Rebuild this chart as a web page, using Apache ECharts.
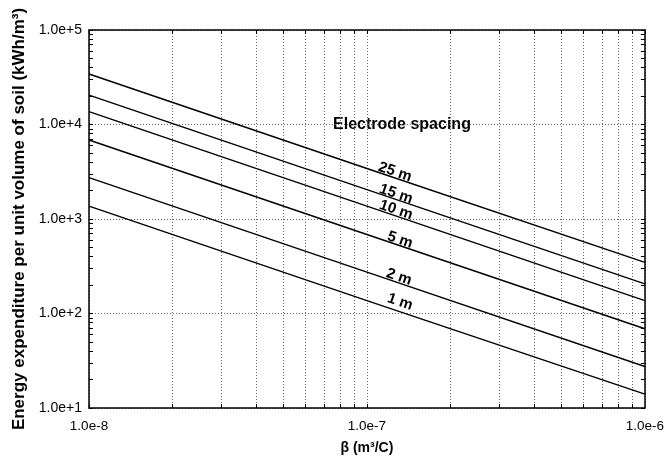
<!DOCTYPE html>
<html>
<head>
<meta charset="utf-8">
<script src="https://cdn.jsdelivr.net/npm/echarts@6/dist/echarts.min.js"></script>
<style>
  html, body { margin: 0; padding: 0; background: #fff; }
  #chart { width: 667px; height: 463px; }
</style>
</head>
<body>
<div id="chart"></div>
<script>
// beta values (m3/C) where each line is sampled
var betaValues = [1e-8, 1e-7, 1e-6];
// electrode spacings and energy per unit volume (kWh/m3)
var spacingNames = ['25 m', '15 m', '10 m', '5 m', '2 m', '1 m'];
var energy25 = [34200, 3420, 348];
var energy15 = [20500, 2050, 206];
var energy10 = [13700, 1370, 137];
var energy5 = [6850, 685, 69];
var energy2 = [2740, 274, 27.5];
var energy1 = [1370, 137, 14];
var energyData = [energy25, energy15, energy10, energy5, energy2, energy1];
// tick labels
var xTickLabels = ['1.0e-8', '1.0e-7', '1.0e-6'];
var yTickLabels = ['1.0e+1', '1.0e+2', '1.0e+3', '1.0e+4', '1.0e+5'];

// minor tick positions on log axes (1..9 of each decade)
function minorValues(lo, hi) {
  var out = [];
  for (var e = lo; e < hi; e++) {
    for (var m = 1; m <= 9; m++) out.push(+(m * Math.pow(10, e)).toPrecision(3));
  }
  out.push(Math.pow(10, hi));
  return out;
}
var xMinor = minorValues(-8, -6);
var yMinor = minorValues(1, 5);

// pick the tick label whose exponent matches the tick value
function expLabel(list) {
  return function (v) {
    var e = Math.round(Math.log10(v));
    var suffix = e >= 0 ? '+' + e : String(e);
    for (var i = 0; i < list.length; i++) {
      if (list[i].slice(-suffix.length) === suffix) return list[i];
    }
    return '';
  };
}

var font = 'Liberation Sans, Arial, sans-serif';
var gridStyle = { color: '#666', type: [1, 2], width: 1 };
var axisStyle = { color: '#000', width: 1.5 };

var series = energyData.map(function (vals, i) {
  return {
    name: spacingNames[i],
    type: 'line',
    symbol: 'none',
    silent: true,
    lineStyle: { color: '#000', width: 1.4 },
    data: betaValues.map(function (b, j) { return [b, vals[j]]; })
  };
});

// annotation text for each line (centre x, y), rotated along the lines
var labelPos = [[395, 172], [396, 194], [396, 210], [400, 240], [399, 277], [400, 302]];
var graphics = [{
  type: 'text', x: 402, y: 125,
  style: { text: 'Electrode spacing', font: 'bold 16px ' + font, fill: '#000', align: 'center', verticalAlign: 'middle' }
}];
spacingNames.forEach(function (name, i) {
  graphics.push({
    type: 'text', x: labelPos[i][0], y: labelPos[i][1], rotation: -0.33,
    style: { text: name, font: 'bold 15px ' + font, fill: '#000', align: 'center', verticalAlign: 'middle' }
  });
});

var chart = echarts.init(document.getElementById('chart'));
chart.setOption({
  animation: false,
  grid: { left: 89, right: 22, top: 30, bottom: 55 },
  xAxis: [{
    type: 'log', min: 1e-8, max: 1e-6, logBase: 10,
    position: 'bottom',
    name: 'β (m³/C)', nameLocation: 'middle', nameGap: 33,
    nameTextStyle: { fontFamily: font, fontSize: 14, fontWeight: 'bold', color: '#000' },
    axisLine: { lineStyle: axisStyle },
    axisTick: { inside: true, length: 4, lineStyle: { color: '#000' }, customValues: xMinor },
    axisLabel: { fontFamily: font, fontSize: 13.5, color: '#000', margin: 11, formatter: expLabel(xTickLabels) },
    splitLine: { show: true, lineStyle: gridStyle }
  }, {
    type: 'log', min: 1e-8, max: 1e-6, logBase: 10,
    position: 'top',
    axisLine: { lineStyle: axisStyle },
    axisTick: { inside: true, length: 4, lineStyle: { color: '#000' }, customValues: xMinor },
    axisLabel: { show: false },
    splitLine: { show: false }
  }],
  yAxis: [{
    type: 'log', min: 10, max: 1e5, logBase: 10,
    position: 'left',
    name: 'Energy expenditure per unit volume of soil (kWh/m³)',
    nameLocation: 'middle', nameGap: 58,
    nameTextStyle: { fontFamily: font, fontSize: 17, fontWeight: 'bold', color: '#000' },
    axisLine: { lineStyle: axisStyle },
    axisTick: { inside: true, length: 4, lineStyle: { color: '#000' }, customValues: yMinor },
    axisLabel: { fontFamily: font, fontSize: 14, color: '#000', margin: 7, formatter: expLabel(yTickLabels) },
    splitLine: { show: false }
  }, {
    type: 'log', min: 10, max: 1e5, logBase: 10,
    position: 'right',
    axisLine: { lineStyle: axisStyle },
    axisTick: { inside: true, length: 4, lineStyle: { color: '#000' }, customValues: yMinor },
    axisLabel: { show: false },
    splitLine: { show: false }
  }, {
    // decade grid lines only
    type: 'log', min: 10, max: 1e5, logBase: 10,
    position: 'left',
    axisLine: { show: false },
    axisTick: { show: false },
    axisLabel: { show: false },
    splitLine: { show: true, lineStyle: gridStyle }
  }],
  graphic: graphics,
  series: series
});
</script>
</body>
</html>
